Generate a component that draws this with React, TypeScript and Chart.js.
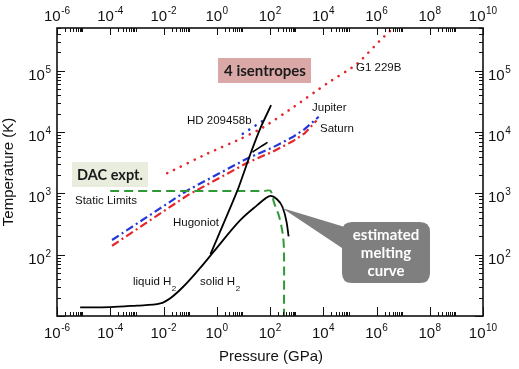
import React, { useEffect, useRef } from "react";
import { Chart, registerables } from "chart.js";

Chart.register(...registerables);

// ---------- data (pressure in GPa, temperature in K) ----------
const meltP = [7.4e-6, 1e-4, 1e-3, 7.6e-3, 0.018, 0.055, 0.24, 0.74, 7.8, 34, 68, 105, 178, 295, 420, 500];
const meltT = [13.8, 14, 14.8, 16, 19.5, 30, 61, 110, 370, 650, 830, 910, 810, 600, 340, 200];

const hugP = [0.58, 6.0, 18.6, 44, 110];
const hugT = [102, 1120, 4470, 11750, 27500];

const hugBranchP = [22, 45, 81];
const hugBranchT = [4700, 5800, 6800];

const staticP = [1e-4, 60, 105, 140, 220, 300, 335, 335];
const staticT = [1100, 1100, 1100, 720, 420, 220, 120, 10];

const jupiterP = [1.17e-4, 0.079, 14, 126, 710, 2000, 6760];
const jupiterT = [174, 1120, 3720, 5620, 8300, 11200, 17800];

const saturnP = [1.17e-4, 0.079, 14, 126, 710, 2000, 5600];
const saturnT = [140, 930, 3160, 4800, 7080, 9550, 15500];

const hdP = [9.5, 70];
const hdT = [9400, 16500];

const g1P = [0.0138, 0.447, 7.76, 52, 710, 13500, 182000, 1.32e6, 3.8e6];
const g1T = [2140, 4470, 7760, 11750, 25100, 61700, 129000, 309000, 479000];

const xLabelExps = [-6, -4, -2, 0, 2, 4, 6, 8, 10];
const yLabelExps = [2, 3, 4, 5];
const yDecades = [1, 2, 3, 4, 5];
const X_MIN = 1e-6, X_MAX = 1e10, Y_MIN = 10, Y_MAX = 5e5;

const pts = (P: number[], T: number[]) => P.map((p, i) => ({ x: p, y: T[i] }));

const SANS = '"Liberation Sans", Arial, Helvetica, sans-serif';
const BOLD = '"Lato", "Open Sans", sans-serif';

function drawPow(ctx: CanvasRenderingContext2D, exp: number, x: number, y: number, align: "center" | "left" | "right") {
  ctx.save();
  ctx.fillStyle = "#111";
  ctx.textBaseline = "alphabetic";
  ctx.textAlign = "left";
  const base = "10";
  const ex = String(exp);
  ctx.font = `15px ${SANS}`;
  const wb = ctx.measureText(base).width;
  ctx.font = `10px ${SANS}`;
  const we = ctx.measureText(ex).width;
  const total = wb + we + 0.5;
  let x0 = x;
  if (align === "center") x0 = x - total / 2;
  else if (align === "right") x0 = x - total;
  ctx.font = `15px ${SANS}`;
  ctx.fillText(base, x0, y);
  ctx.font = `10px ${SANS}`;
  ctx.fillText(ex, x0 + wb + 0.5, y - 7);
  ctx.restore();
}

const axesPlugin = {
  id: "customAxes",
  afterDraw(chart: any) {
    const { ctx, chartArea: a, scales } = chart;
    const xs = scales.x, ys = scales.y;
    ctx.save();
    ctx.strokeStyle = "#111";
    ctx.lineWidth = 1;
    // x ticks
    for (const e of xLabelExps) {
      const px = Math.round(xs.getPixelForValue(Math.pow(10, e))) + 0.5;
      ctx.beginPath();
      ctx.moveTo(px, a.bottom); ctx.lineTo(px, a.bottom - 9);
      ctx.moveTo(px, a.top); ctx.lineTo(px, a.top + 7);
      ctx.stroke();
      if (e < 10) {
        for (let m = 2; m <= 9; m++) {
          const mx = Math.round(xs.getPixelForValue(m * Math.pow(10, e))) + 0.5;
          ctx.beginPath();
          ctx.moveTo(mx, a.bottom); ctx.lineTo(mx, a.bottom - 4);
          ctx.moveTo(mx, a.top); ctx.lineTo(mx, a.top + 4);
          ctx.stroke();
        }
      }
    }
    // y ticks
    for (const d of yDecades) {
      const v = Math.pow(10, d);
      const py = Math.round(ys.getPixelForValue(v)) + 0.5;
      ctx.beginPath();
      ctx.moveTo(a.left, py); ctx.lineTo(a.left + 8, py);
      ctx.moveTo(a.right, py); ctx.lineTo(a.right - 8, py);
      ctx.stroke();
      for (let m = 2; m <= 9; m++) {
        const mv = m * v;
        if (mv > Y_MAX) break;
        const my = Math.round(ys.getPixelForValue(mv)) + 0.5;
        ctx.beginPath();
        ctx.moveTo(a.left, my); ctx.lineTo(a.left + 4, my);
        ctx.moveTo(a.right, my); ctx.lineTo(a.right - 4, my);
        ctx.stroke();
      }
    }
    // frame
    ctx.lineWidth = 1.6;
    ctx.strokeRect(a.left, a.top, a.right - a.left, a.bottom - a.top);
    // labels
    for (const e of xLabelExps) {
      const px = xs.getPixelForValue(Math.pow(10, e));
      drawPow(ctx, e, px, a.bottom + 22, "center");
      drawPow(ctx, e, px, a.top - 7, "center");
    }
    for (const e of yLabelExps) {
      const py = ys.getPixelForValue(Math.pow(10, e));
      drawPow(ctx, e, a.left - 6, py + 9, "right");
      drawPow(ctx, e, a.right + 5, py + 9, "left");
    }
    // axis titles
    ctx.fillStyle = "#111";
    ctx.font = `15px ${SANS}`;
    ctx.textAlign = "center";
    ctx.textBaseline = "middle";
    ctx.fillText("Pressure (GPa)", (a.left + a.right) / 2 + 1, 357);
    ctx.save();
    ctx.translate(9, (a.top + a.bottom) / 2);
    ctx.rotate(-Math.PI / 2);
    ctx.fillText("Temperature (K)", 0, 0);
    ctx.restore();
    ctx.restore();
  },
};

function label(ctx: CanvasRenderingContext2D, text: string, x: number, y: number, sub?: string) {
  ctx.font = `11.5px ${SANS}`;
  ctx.textAlign = "left";
  ctx.textBaseline = "middle";
  ctx.fillStyle = "#111";
  ctx.fillText(text, x, y);
  if (sub) {
    const w = ctx.measureText(text).width;
    ctx.font = `8px ${SANS}`;
    ctx.fillText(sub, x + w + 0.5, y + 7);
  }
}

function roundRect(ctx: CanvasRenderingContext2D, x: number, y: number, w: number, h: number, r: number) {
  ctx.beginPath();
  ctx.moveTo(x + r, y);
  ctx.lineTo(x + w - r, y);
  ctx.quadraticCurveTo(x + w, y, x + w, y + r);
  ctx.lineTo(x + w, y + h - r);
  ctx.quadraticCurveTo(x + w, y + h, x + w - r, y + h);
  ctx.lineTo(x + r, y + h);
  ctx.quadraticCurveTo(x, y + h, x, y + h - r);
  ctx.lineTo(x, y + r);
  ctx.quadraticCurveTo(x, y, x + r, y);
  ctx.closePath();
}

const annotationPlugin = {
  id: "annotations",
  afterDatasetsDraw(chart: any) {
    const ctx: CanvasRenderingContext2D = chart.ctx;
    ctx.save();
    // text labels
    label(ctx, "G1 229B", 356, 68);
    label(ctx, "Jupiter", 312, 108);
    label(ctx, "Saturn", 320, 129);
    label(ctx, "HD 209458b", 187, 121);
    label(ctx, "Static Limits", 75, 201);
    label(ctx, "Hugoniot", 173, 223);
    label(ctx, "liquid H", 133, 282, "2");
    label(ctx, "solid H", 200, 282, "2");

    // 4 isentropes box
    ctx.fillStyle = "#dba8a8";
    ctx.fillRect(218, 58, 93, 25);
    ctx.fillStyle = "#1a1a1a";
    ctx.font = `bold 15px ${BOLD}`;
    ctx.textAlign = "center";
    ctx.textBaseline = "middle";
    ctx.fillText("4 isentropes", 265, 71);

    // DAC box
    ctx.fillStyle = "#e9eddd";
    ctx.fillRect(72, 162, 76, 25);
    ctx.fillStyle = "#1a1a1a";
    ctx.font = `bold 14.5px ${BOLD}`;
    ctx.fillText("DAC expt.", 110, 175);

    // estimated melting curve callout
    ctx.fillStyle = "#7f7f7f";
    ctx.beginPath();
    ctx.moveTo(282, 208);
    ctx.lineTo(348, 228);
    ctx.lineTo(348, 252);
    ctx.closePath();
    ctx.fill();
    roundRect(ctx, 342, 222, 88, 61, 10);
    ctx.fill();
    ctx.fillStyle = "#ffffff";
    ctx.font = `bold 15px ${BOLD}`;
    ctx.fillText("estimated", 386, 235);
    ctx.fillText("melting", 386, 253);
    ctx.fillText("curve", 386, 271);
    ctx.restore();
  },
};

export default function App() {
  const ref = useRef<HTMLCanvasElement | null>(null);
  useEffect(() => {
    if (!ref.current) return;
    const RED = "#e5262b";
    const BLUE = "#2438d8";
    const GREEN = "#2e9a35";
    const chart = new Chart(ref.current, {
      type: "line",
      data: {
        datasets: [
          { data: pts(meltP, meltT), borderColor: "#000", borderWidth: 1.8, cubicInterpolationMode: "monotone" },
          { data: pts(hugP, hugT), borderColor: "#000", borderWidth: 1.8, tension: 0.2 },
          { data: pts(hugBranchP, hugBranchT), borderColor: "#000", borderWidth: 1.6, tension: 0.3 },
          { data: pts(staticP, staticT), borderColor: GREEN, borderWidth: 2, borderDash: [9, 5], tension: 0.3 },
          { data: pts(jupiterP, jupiterT), borderColor: BLUE, borderWidth: 2.2, borderDash: [8, 3.5, 2, 3.5], tension: 0 },
          { data: pts(saturnP, saturnT), borderColor: RED, borderWidth: 2.2, borderDash: [8, 3.5, 2, 3.5], tension: 0 },
          { data: pts(hdP, hdT), borderColor: BLUE, borderWidth: 2.6, borderDash: [0.1, 7.5], borderCapStyle: "round", tension: 0 },
          { data: pts(g1P, g1T), borderColor: RED, borderWidth: 2.6, borderDash: [0.1, 7.5], borderCapStyle: "round", tension: 0.2 },
        ] as any,
      },
      options: {
        responsive: false,
        maintainAspectRatio: false,
        animation: false,
        devicePixelRatio: 1,
        layout: { padding: { left: 57, top: 28, right: 36, bottom: 53 } },
        elements: { point: { radius: 0 } },
        scales: {
          x: { type: "logarithmic", min: X_MIN, max: X_MAX, display: false },
          y: { type: "logarithmic", min: Y_MIN, max: Y_MAX, display: false },
        },
        plugins: { legend: { display: false }, tooltip: { enabled: false } },
      } as any,
      plugins: [axesPlugin, annotationPlugin],
    });
    return () => chart.destroy();
  }, []);
  return (
    <div style={{ position: "fixed", left: 0, top: 0, width: 519, height: 369, background: "#fff" }}>
      <canvas ref={ref} width={519} height={369} style={{ width: 519, height: 369, display: "block" }} />
    </div>
  );
}
